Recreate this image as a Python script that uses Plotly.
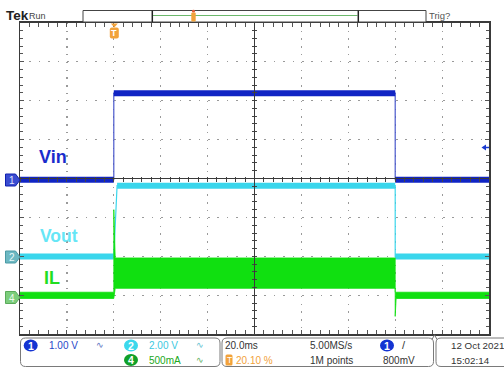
import plotly.graph_objects as go

# ------------------------------------------------------------------ data
# time base: 20 ms/div, trigger at 20% of record (0 ms)
t_vin = [-40, 0, 0, 120, 120, 160]          # ms
vin = [0, 0, 2.22, 2.22, 0, 0]              # V   (CH1)

t_vout = [-40, 0, 1.4, 120, 120, 160]       # ms
vout = [0, 0, 3.63, 3.63, 0, 0]             # V   (CH2)

t_il = [-40, 0, 0, 0.6, 120, 120, 120.4, 160]               # ms
il_max = [0.04, 0.04, 1.10, 0.48, 0.48, 0.04, 0.04, 0.04]  # A (CH4 upper envelope)
il_min = [-0.04, -0.04, -0.04, 0.09, 0.09, -0.27, -0.04, -0.04]  # A (lower envelope)

labels = ["Vin", "Vout", "IL"]
scale_text = ["1.00 V", "2.00 V", "500mA"]

# scope settings
TIME_DIV = 20.0
T_START = -40.0
N_XDIV, N_YDIV = 10, 8
CH_SCALE = {"1": 1.0, "2": 2.0, "4": 0.5}     # units / div
CH_POS = {"1": -0.03, "2": -2.0, "4": -3.0}   # div

# ------------------------------------------------------------------ helpers
W, H = 504, 367
def px(x): return x / W
def py(y): return 1 - y / H

LEFT, RIGHT, TOP, BOT = 20, 489, 22.7, 334.3
X_DOM = [px(LEFT), px(RIGHT)]
Y_DOM = [py(BOT), py(TOP)]
CX = (LEFT + RIGHT) / 2
CY = (TOP + BOT) / 2
SANS = "Liberation Sans, Arial, sans-serif"

C_VIN = "#1024c4"
C_VIN_EDGE = "#4a58cc"
C_VOUT = "#3ad6ec"
C_IL = "#10e010"
ORANGE = "#f2a23a"

def flat_runs(t, v):
    xs, ys = [], []
    for i in range(len(t) - 1):
        if v[i] == v[i + 1] and t[i] != t[i + 1]:
            xs += [t[i], t[i + 1], None]
            ys += [v[i], v[i + 1], None]
    return xs, ys

def ch_range(ch):
    s, p = CH_SCALE[ch], CH_POS[ch]
    return [(-N_YDIV / 2 - p) * s, (N_YDIV / 2 - p) * s]

def P(pts, close=True):
    s = "M " + " L ".join(f"{px(x)},{py(y)}" for x, y in pts)
    return s + (" Z" if close else "")

def rrect(x0, y0, x1, y1, r):
    return (f"M {px(x0+r)},{py(y0)} L {px(x1-r)},{py(y0)} Q {px(x1)},{py(y0)} {px(x1)},{py(y0+r)} "
            f"L {px(x1)},{py(y1-r)} Q {px(x1)},{py(y1)} {px(x1-r)},{py(y1)} "
            f"L {px(x0+r)},{py(y1)} Q {px(x0)},{py(y1)} {px(x0)},{py(y1-r)} "
            f"L {px(x0)},{py(y0+r)} Q {px(x0)},{py(y0)} {px(x0+r)},{py(y0)} Z")

fig = go.Figure()

# ------------------------------------------------------------------ traces
# CH4 IL (band between envelopes)
fig.add_trace(go.Scatter(x=t_il, y=il_min, yaxis="y5", mode="lines",
                         line=dict(color=C_IL, width=0.8), hoverinfo="skip", showlegend=False))
fig.add_trace(go.Scatter(x=t_il, y=il_max, yaxis="y5", mode="lines", fill="tonexty",
                         fillcolor=C_IL, line=dict(color=C_IL, width=0.8),
                         hoverinfo="skip", showlegend=False))
# CH2 Vout
fig.add_trace(go.Scatter(x=t_vout, y=vout, yaxis="y4", mode="lines",
                         line=dict(color=C_VOUT, width=1.2), hoverinfo="skip", showlegend=False))
xr, yr = flat_runs(t_vout, vout)
fig.add_trace(go.Scatter(x=xr, y=yr, yaxis="y4", mode="lines",
                         line=dict(color=C_VOUT, width=6), hoverinfo="skip", showlegend=False))
# CH1 Vin
fig.add_trace(go.Scatter(x=t_vin, y=vin, yaxis="y3", mode="lines",
                         line=dict(color=C_VIN_EDGE, width=1.2), hoverinfo="skip", showlegend=False))
xr, yr = flat_runs(t_vin, vin)
fig.add_trace(go.Scatter(x=xr, y=yr, yaxis="y3", mode="lines",
                         line=dict(color=C_VIN, width=6), hoverinfo="skip", showlegend=False))
# empty trace carrying the centre-graticule tick axes
fig.add_trace(go.Scatter(x=[], y=[], xaxis="x2", yaxis="y2", showlegend=False))

x_end = T_START + N_XDIV * TIME_DIV
x_mid = T_START + N_XDIV / 2 * TIME_DIV

common = dict(showticklabels=False, zeroline=False, fixedrange=True)
fig.update_layout(
    width=W, height=H, margin=dict(l=0, r=0, t=0, b=0),
    paper_bgcolor="white", plot_bgcolor="rgba(0,0,0,0)", showlegend=False,
    xaxis=dict(domain=X_DOM, range=[T_START, x_end], tick0=T_START, dtick=TIME_DIV,
               showgrid=True, gridcolor="#9a9a9a", gridwidth=1.2, griddash="1.5px,6.3px",
               ticks="inside", ticklen=4, tickcolor="#555", tickwidth=1,
               showline=True, linecolor="#3a3a3a", linewidth=1.5, mirror="allticks",
               minor=dict(dtick=TIME_DIV / 5, tick0=T_START, ticks="inside", ticklen=3,
                          tickcolor="#555", showgrid=False), **common),
    yaxis=dict(domain=Y_DOM, range=[-N_YDIV / 2, N_YDIV / 2], tick0=0, dtick=1,
               showgrid=True, gridcolor="#9a9a9a", gridwidth=1.2, griddash="1.5px,7.9px",
               ticks="inside", ticklen=4, tickcolor="#555", tickwidth=1,
               showline=True, linecolor="#3a3a3a", linewidth=1.5, mirror="allticks",
               minor=dict(dtick=0.2, tick0=0, ticks="inside", ticklen=3,
                          tickcolor="#555", showgrid=False), **common),
    xaxis2=dict(overlaying="x", domain=X_DOM, range=[T_START, x_end], anchor="free",
                position=py(CY - 2.5), side="bottom", tick0=T_START, dtick=TIME_DIV / 5,
                ticks="outside", ticklen=5, tickcolor="#444", showgrid=False,
                showline=False, **common),
    yaxis2=dict(overlaying="y", domain=Y_DOM, range=[-N_YDIV / 2, N_YDIV / 2], anchor="free",
                position=px(CX + 2.5), side="left", tick0=0, dtick=0.2,
                ticks="outside", ticklen=5, tickcolor="#444", showgrid=False,
                showline=False, **common),
    yaxis3=dict(overlaying="y", domain=Y_DOM, range=ch_range("1"), visible=False, **common),
    yaxis4=dict(overlaying="y", domain=Y_DOM, range=ch_range("2"), visible=False, **common),
    yaxis5=dict(overlaying="y", domain=Y_DOM, range=ch_range("4"), visible=False, **common),
)

shapes = []
# centre crosshair
shapes.append(dict(type="line", xref="x", yref="paper", x0=x_mid, x1=x_mid, y0=Y_DOM[0], y1=Y_DOM[1],
                   line=dict(color="#3a3a3a", width=1), layer="above"))
shapes.append(dict(type="line", xref="paper", yref="y", x0=X_DOM[0], x1=X_DOM[1], y0=0, y1=0,
                   line=dict(color="#3a3a3a", width=1), layer="above"))

def pshape(path, fill=None, line=None, width=1, layer="above"):
    d = dict(type="path", xref="paper", yref="paper", path=path, layer=layer,
             line=dict(color=line or "rgba(0,0,0,0)", width=width if line else 0))
    if fill:
        d["fillcolor"] = fill
    return d

# record-view bar
shapes.append(dict(type="rect", xref="paper", yref="paper", x0=px(83), x1=px(426), y0=py(22), y1=py(10.5),
                   line=dict(color="#444", width=1), fillcolor="white"))
shapes.append(dict(type="line", xref="paper", yref="paper", x0=px(153), x1=px(357.5), y0=py(15.5), y1=py(15.5),
                   line=dict(color="#6cb86c", width=1)))
for xx in (152.3, 358.3):
    shapes.append(dict(type="line", xref="paper", yref="paper", x0=px(xx), x1=px(xx), y0=py(22), y1=py(10.5),
                       line=dict(color="#222", width=1.5)))
shapes.append(pshape(rrect(191.3, 12.5, 195.7, 21.5, 1), fill=ORANGE))
shapes.append(dict(type="circle", xref="paper", yref="paper", x0=px(192), x1=px(195), y0=py(12.5), y1=py(9.8),
                   line=dict(width=0), fillcolor="#e8603a"))

# trigger position marker
shapes.append(pshape(P([(110.8, 23.5), (117.8, 23.5), (114.3, 27.5)]), fill=ORANGE))
shapes.append(pshape(rrect(109.8, 27.5, 118.8, 38.5, 2), fill=ORANGE))

# trigger level arrow (right)
shapes.append(pshape(P([(481.5, 147.5), (486, 144.5), (486, 150.5)]), fill="#1a3ad0"))
shapes.append(dict(type="line", xref="paper", yref="paper", x0=px(485), x1=px(489), y0=py(147.5), y1=py(147.5),
                   line=dict(color="#1a3ad0", width=1.5)))

# small marker at bottom edge
shapes.append(pshape(P([(432, 339.5), (434.5, 334.8), (437, 339.5)], close=False), line="#777", width=1))

# channel ground markers
for ch, yy, fc, lc in (("1", 180, "#3a4cd0", "#1020b0"), ("2", 257, "#6db8c2", "#4a9aa5"),
                       ("4", 297.5, "#7ccd7c", "#5aaa5a")):
    shapes.append(pshape(P([(5.5, yy - 6), (15.5, yy - 6), (20, yy), (15.5, yy + 6), (5.5, yy + 6)]),
                         fill=fc, line=lc, width=1))

# bottom status panels
shapes.append(pshape(rrect(20.5, 338, 220, 366.5, 5), line="#7a7a7a", width=1))
shapes.append(pshape(rrect(222, 338, 433.5, 366.5, 5), line="#7a7a7a", width=1))
shapes.append(pshape(rrect(436, 338, 520, 366.5, 5), line="#7a7a7a", width=1))

# channel badges
for cx_, cy_, fc in ((30.7, 345.5, "#1434d2"), (131, 345.5, "#3cd8ec"), (131, 360, "#10a028"),
                     (387, 345.5, "#1434d2")):
    shapes.append(dict(type="circle", xref="paper", yref="paper", x0=px(cx_ - 7), x1=px(cx_ + 7),
                       y0=py(cy_ + 6), y1=py(cy_ - 6), line=dict(width=0), fillcolor=fc))
shapes.append(pshape(rrect(225.5, 354.5, 232.5, 365.5, 1.5), fill=ORANGE))

fig.update_layout(shapes=shapes)

ann = []
def txt(x, y, s, color, size=10, xanchor="left", family=SANS):
    ann.append(dict(x=px(x), y=py(y), xref="paper", yref="paper", text=s, showarrow=False,
                    xanchor=xanchor, yanchor="middle", borderpad=0,
                    font=dict(family=family, size=size, color=color)))

# channel labels on screen
txt(38, 157, "<b>" + labels[0] + "</b>", "#1a2ccc", size=18)
txt(39, 236, "<b>" + labels[1] + "</b>", "#66e6f6", size=17.5)
txt(43, 278, "<b>" + labels[2] + "</b>", "#22dd22", size=18)

# header
txt(5, 16, "<b>Tek</b>", "#222", size=13.5)
txt(28, 15.5, "Run", "#444", size=9)
txt(428, 16, "Trig?", "#555", size=9.5)

# marker glyphs
txt(114.3, 33.3, "<b>T</b>", "white", size=9, xanchor="center")
txt(12, 180.5, "1", "#dfe4ff", size=10, xanchor="center")
txt(12, 257.5, "2", "#e8f8fa", size=10, xanchor="center")
txt(12, 298, "4", "#eefaee", size=10, xanchor="center")

# status bar
txt(30.7, 345.8, "<b>1</b>", "white", size=10.5, xanchor="center")
txt(131, 345.8, "<b>2</b>", "white", size=10.5, xanchor="center")
txt(131, 360.3, "<b>4</b>", "white", size=10.5, xanchor="center")
txt(387, 345.8, "<b>1</b>", "white", size=10.5, xanchor="center")
txt(48, 345.5, scale_text[0], "#2848c8", size=10)
txt(148, 345.5, scale_text[1], "#3cc8e0", size=10)
txt(148, 360, scale_text[2], "#20a820", size=10)
txt(100, 345, "∿", "#5870c0", size=9, xanchor="center")
txt(200, 345, "∿", "#60c0d0", size=9, xanchor="center")
txt(200, 360, "∿", "#60b060", size=9, xanchor="center")
txt(224, 345.5, "20.0ms", "#333", size=10)
txt(229, 360.3, "T", "white", size=8.5, xanchor="center")
txt(234.5, 360, "20.10 %", ORANGE, size=10)
txt(308.5, 345.5, "5.00MS/s", "#333", size=10)
txt(308.5, 360, "1M points", "#333", size=10)
txt(404, 345, "/", "#333", size=11, xanchor="center")
txt(382, 360, "800mV", "#333", size=10)
txt(450, 345.5, "12 Oct 2021", "#333", size=9.8)
txt(450, 360, "15:02:14", "#333", size=9.8)

fig.update_layout(annotations=ann)

fig.write_html("out.html", config={"displayModeBar": False, "staticPlot": True},
               post_script="document.body.style.margin='0';")
